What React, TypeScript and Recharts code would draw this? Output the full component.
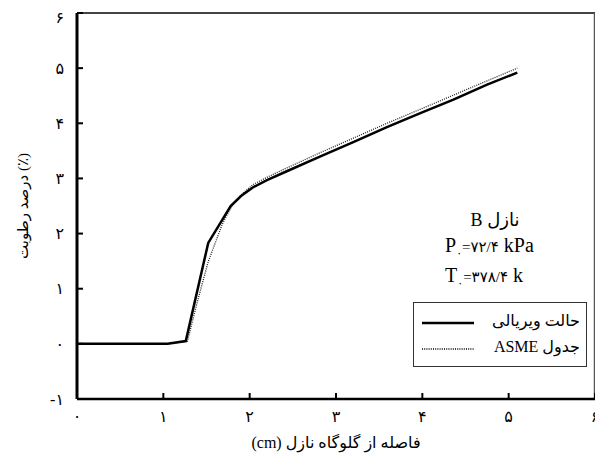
import React from 'react';
import {
  LineChart,
  Line,
  XAxis,
  YAxis,
  ReferenceLine,
  Legend,
  Label
} from 'recharts';

// Values (x: distance from throat in cm, y: moisture %)
const virialX = [0, 1.05, 1.26, 1.52, 1.78, 1.9, 2.04, 2.2, 2.43, 2.82, 3.2, 3.59, 3.97, 4.36, 4.75, 5.1];
const virialY = [0, 0, 0.05, 1.83, 2.5, 2.68, 2.84, 2.97, 3.13, 3.4, 3.66, 3.93, 4.18, 4.43, 4.7, 4.92];
const asmeX = [0, 1.05, 1.28, 1.39, 1.52, 1.68, 1.8, 1.92, 2.04, 2.2, 2.43, 2.82, 3.2, 3.59, 3.97, 4.36, 4.75, 5.1];
const asmeY = [0, 0, 0.05, 0.74, 1.49, 2.16, 2.52, 2.73, 2.89, 3.02, 3.19, 3.47, 3.73, 4.0, 4.25, 4.51, 4.77, 5.0];

const xTicks = [0, 1, 2, 3, 4, 5, 6];
const yTicks = [-1, 0, 1, 2, 3, 4, 5, 6];

const virialName = 'حالت ویریالی';
const asmeName = 'جدول ASME';
const legendOrder = [virialName, asmeName];

const virialData = virialX.map((x, i) => ({ x, y: virialY[i] }));
const asmeData = asmeX.map((x, i) => ({ x, y: asmeY[i] }));

const font = "'Liberation Serif', 'DejaVu Sans', serif";
const faDigits = '۰۱۲۳۴۵۶۷۸۹';
const toFa = (v: number) => String(v).replace(/\d/g, (d) => faDigits[+d]);

const LegendBox = (props: any) => {
  const items = [...(props.payload || [])].sort(
    (a: any, b: any) => legendOrder.indexOf(a.value) - legendOrder.indexOf(b.value)
  );
  return (
    <div
      style={{
        width: 172,
        height: 63,
        border: '1px solid #333',
        boxSizing: 'content-box',
        background: '#fff',
        fontFamily: font,
        fontSize: 16,
        color: '#000'
      }}
    >
      {items.map((it: any, i: number) => (
        <div key={i} style={{ position: 'relative', height: 26, marginTop: i === 0 ? 6 : 0 }}>
          <svg width={54} height={10} style={{ position: 'absolute', left: 8, top: 9 }}>
            <line
              x1={0}
              x2={52}
              y1={5}
              y2={5}
              stroke="#000"
              strokeWidth={it.payload?.strokeWidth ?? 2}
              strokeDasharray={it.payload?.strokeDasharray}
            />
          </svg>
          <span dir="rtl" style={{ position: 'absolute', right: 6, top: 2, whiteSpace: 'nowrap' }}>
            {it.value}
          </span>
        </div>
      ))}
    </div>
  );
};

export default function App() {
  return (
    <div style={{ position: 'relative', width: 595, height: 446, fontFamily: font, background: '#fff' }}>
      <LineChart width={595} height={446} margin={{ top: 5, right: 8, left: 0, bottom: 0 }}>
        <XAxis
          type="number"
          dataKey="x"
          domain={[0, 6]}
          ticks={xTicks}
          tickFormatter={toFa}
          height={55}
          axisLine={{ stroke: '#000', strokeWidth: 2.5 }}
          tickLine={{ stroke: '#000', strokeWidth: 2 }}
          tickSize={-6}
          tickMargin={18}
          tick={{ fill: '#000', fontSize: 16, fontFamily: font }}
          allowDataOverflow
        >
          <Label
            value="(cm) فاصله از گلوگاه نازل"
            position="insideBottom"
            offset={6}
            style={{ fill: '#000', fontSize: 16, fontFamily: font }}
          />
        </XAxis>
        <YAxis
          type="number"
          domain={[-1, 6]}
          ticks={yTicks}
          tickFormatter={toFa}
          width={69}
          axisLine={{ stroke: '#000', strokeWidth: 3 }}
          tickLine={{ stroke: '#000', strokeWidth: 2 }}
          tickSize={-6}
          tickMargin={19}
          tick={{ fill: '#000', fontSize: 16, fontFamily: font }}
          allowDataOverflow
        >
          <Label
            value="درصد رطوبت (٪)"
            angle={-90}
            position="insideLeft"
            offset={15}
            style={{ fill: '#000', fontSize: 15, fontFamily: font, textAnchor: 'middle' }}
          />
        </YAxis>
        <ReferenceLine y={6} stroke="#444" strokeWidth={2} />
        <ReferenceLine x={6} stroke="#555" strokeWidth={2.5} />
        <Line
          data={asmeData}
          dataKey="y"
          name={asmeName}
          type="linear"
          stroke="#222"
          strokeWidth={1.3}
          strokeDasharray="1 1.2"
          dot={false}
          isAnimationActive={false}
        />
        <Line
          data={virialData}
          dataKey="y"
          name={virialName}
          type="linear"
          stroke="#000"
          strokeWidth={2.5}
          dot={false}
          isAnimationActive={false}
        />
        <Legend
          layout="vertical"
          align="center"
          verticalAlign="middle"
          content={<LegendBox />}
          wrapperStyle={{ left: 405, top: 294, width: 174 }}
        />
      </LineChart>
      <div style={{ position: 'absolute', left: 0, top: 0, width: 595, height: 446, pointerEvents: 'none', color: '#000', fontSize: 20 }}>
        <div style={{ position: 'absolute', left: 487, top: 201, fontSize: 18, transform: 'translateX(-50%)', whiteSpace: 'nowrap' }}>
          B نازل
        </div>
        <div style={{ position: 'absolute', left: 437, top: 226, whiteSpace: 'nowrap', direction: 'ltr' }}>
          P<span style={{ fontSize: 11, verticalAlign: -5 }}>۰</span>
          <span style={{ fontSize: 15 }}>=۷۲/۴</span> kPa
        </div>
        <div style={{ position: 'absolute', left: 437, top: 256, whiteSpace: 'nowrap', direction: 'ltr' }}>
          T<span style={{ fontSize: 11, verticalAlign: -5 }}>۰</span>
          <span style={{ fontSize: 15 }}>=۳۷۸/۴</span> k
        </div>
      </div>
    </div>
  );
}
